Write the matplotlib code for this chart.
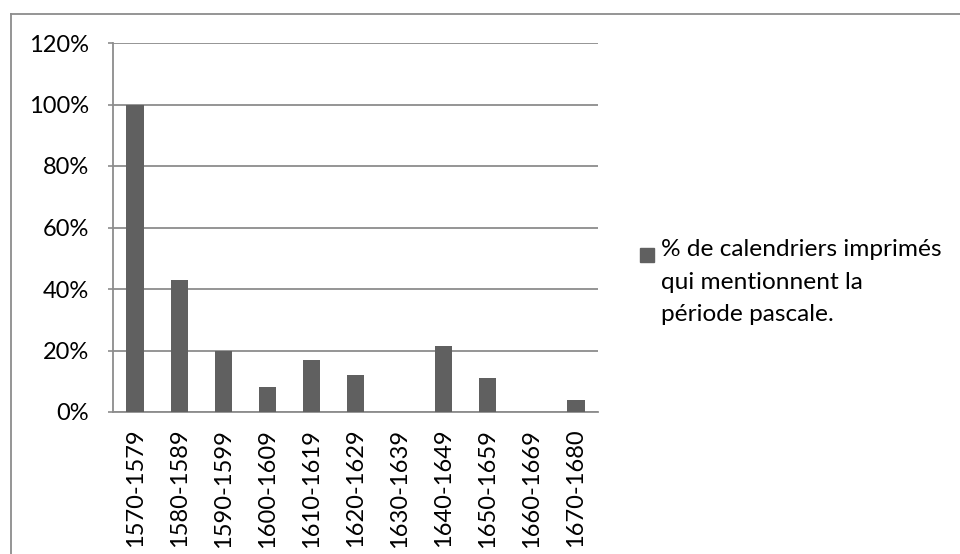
import matplotlib
matplotlib.use("Agg")
import matplotlib.pyplot as plt
import numpy as np
from matplotlib.lines import Line2D
from matplotlib.patches import Rectangle
from matplotlib.ticker import FuncFormatter

# data
periods = ['1570-1579', '1580-1589', '1590-1599', '1600-1609', '1610-1619',
           '1620-1629', '1630-1639', '1640-1649', '1650-1659', '1660-1669',
           '1670-1680']
pct = [100, 43, 20, 8, 17, 12, 0, 21.5, 11, 0, 4]
series_label = "% de calendriers imprimés\nqui mentionnent la\npériode pascale."

bar_col = '#606060'
grid_col = '#8c8c8c'
fsize = 17

plt.rcParams['font.family'] = ['Lato', 'DejaVu Sans']

fig = plt.figure(figsize=(9.6, 5.54), dpi=100)
ax = fig.add_axes([113/960, 1-412/554, (598-113)/960, (412-43)/554])

x = np.arange(len(periods))
ax.bar(x, pct, width=0.39, color=bar_col, zorder=3)

ax.set_xlim(-0.5, len(periods)-0.5)
ax.set_ylim(0, 120)
ax.set_yticks(np.arange(0, 121, 20))
ax.yaxis.set_major_formatter(FuncFormatter(lambda v, p: '%d%%' % v))
ax.set_xticks(x)
ax.set_xticklabels(periods, rotation=90)
ax.tick_params(axis='y', length=3.5, color=grid_col, width=1.2, pad=14, labelsize=fsize)
ax.tick_params(axis='x', length=0, pad=12, labelsize=fsize)

ax.grid(axis='y', color=grid_col, linewidth=1.3, zorder=0)
for s in ['top', 'right']:
    ax.spines[s].set_visible(False)
for s in ['left', 'bottom']:
    ax.spines[s].set_color(grid_col)
    ax.spines[s].set_linewidth(1.3)

# legend drawn by hand so the square sits on the first line
fig.patches.append(Rectangle((640/960, 1-262/554), 14/960, 14/554,
                             transform=fig.transFigure, color=bar_col))
fig.text(661/960, 1-239/554, series_label, fontsize=17.6, va='top',
         ha='left', linespacing=1.68, transform=fig.transFigure)

# chart-area border (top and left visible, rest cut off)
fig.add_artist(Line2D([10.5/960, 10.5/960], [0, 1-13.5/554],
                      transform=fig.transFigure, color='#8c8c8c', lw=1.3))
fig.add_artist(Line2D([10.5/960, 1], [1-13.5/554, 1-13.5/554],
                      transform=fig.transFigure, color='#8c8c8c', lw=1.3))

fig.savefig('out.png', dpi=100)
